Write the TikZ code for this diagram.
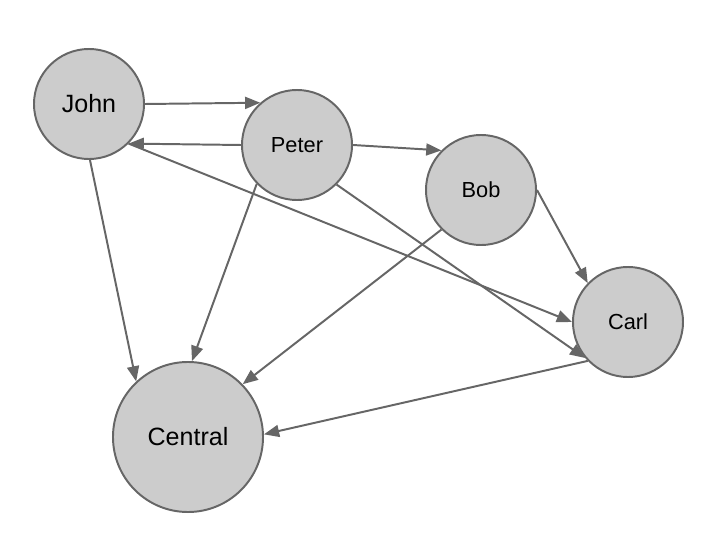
\documentclass[tikz,border=0pt]{standalone}
\usepackage{fontspec}
\setmainfont{Liberation Sans}
\usepackage{tikz}
\usetikzlibrary{automata, positioning, arrows.meta}
\usepackage{xcolor}
\definecolor{nodegray}{HTML}{CCCCCC}
\definecolor{linegray}{HTML}{666666}

\begin{document}
\begin{tikzpicture}[x=0.025cm, y=-0.025cm,
		every edge/.append style={-{Triangle[length=0.38cm,width=0.3cm]}, draw=linegray, line width=1.4pt},
		every state/.style={draw=linegray, fill=nodegray, line width=1.4pt, minimum size=2.75cm, inner sep=0pt, text=black},
		big/.style={minimum size=3.75cm},
		bigtext/.style={font=\fontsize{17.8}{20}\selectfont},
		smalltext/.style={font=\fontsize{15.5}{18}\selectfont}]
			\useasboundingbox (0,0) rectangle (718,538);
			\node[state, bigtext] (john) at (89,104) {John};
			\node[state, smalltext] (peter) at (297,145) {Peter};
			\node[state, smalltext] (bob) at (481,190) {Bob};
			\node[state, smalltext] (carl) at (628,322) {Carl};
			\node[state, big, bigtext] (central) at (188,437) {Central};
			
			\draw (john.east) edge[] (peter.131);
			\draw (peter.west) edge[] (john.-45);
			\draw (john.-45) edge[] (carl.west);
			\draw (peter.east) edge[] (bob.135);
			\draw (bob.east) edge[] (carl.136);
			\draw (john.-89) edge[] (central.133);
			\draw (peter.-136) edge[] (central.87);
			\draw (bob.-135) edge[] (central.44);
			\draw (carl.-136) edge[] (central.2);
			\draw (peter.-45) edge[] (carl.-140);
		\end{tikzpicture}
\end{document}
